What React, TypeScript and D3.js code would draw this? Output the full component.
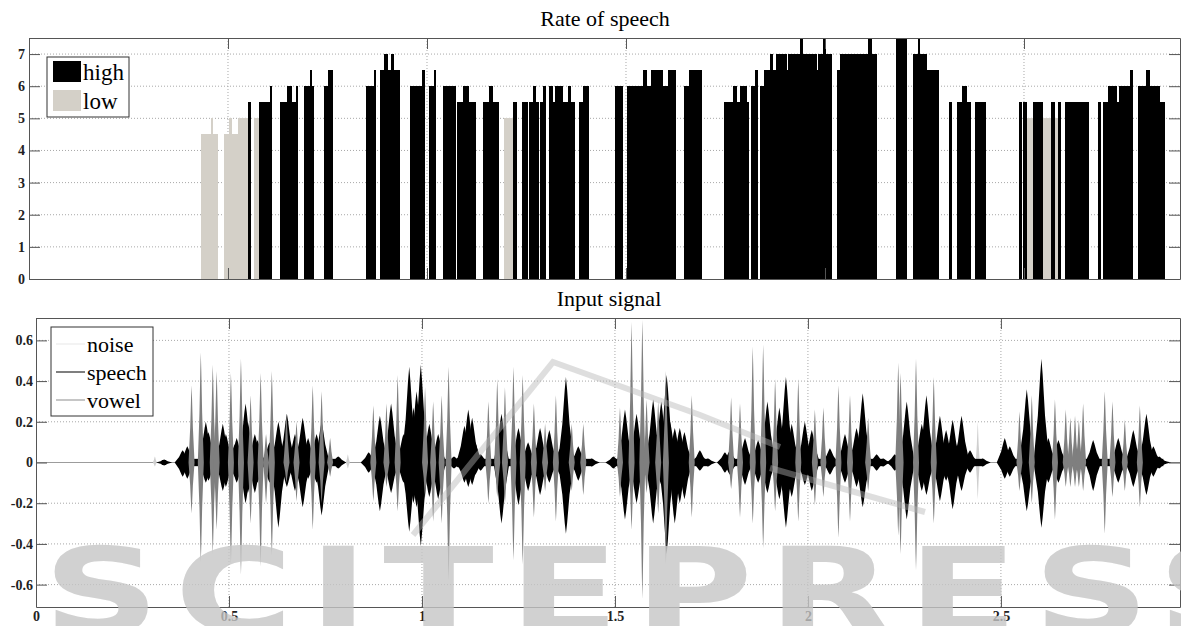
import React, { useEffect, useRef } from 'react';
import * as d3 from 'd3';

const W = 1181;
const H = 626;

// rate of speech: [start (s), end (s), rate, class]
const rateSegments: [number, number, number, string][] = [
  [0.432, 0.457, 4.5, 'low'], [0.457, 0.462, 5, 'low'], [0.462, 0.475, 4.5, 'low'],
  [0.490, 0.503, 4.5, 'low'], [0.503, 0.510, 5, 'low'], [0.510, 0.525, 4.5, 'low'],
  [0.525, 0.550, 5, 'low'], [0.550, 0.557, 5.5, 'high'], [0.565, 0.577, 5, 'low'],
  [0.577, 0.606, 5.5, 'high'], [0.606, 0.611, 6, 'high'],
  [0.631, 0.648, 5.5, 'high'], [0.648, 0.661, 6, 'high'], [0.661, 0.671, 5.5, 'high'], [0.671, 0.676, 6, 'high'],
  [0.691, 0.706, 6, 'high'], [0.706, 0.711, 6.5, 'high'], [0.711, 0.716, 6, 'high'],
  [0.741, 0.751, 6, 'high'], [0.751, 0.764, 6.5, 'high'],
  [0.847, 0.868, 6, 'high'], [0.868, 0.872, 6.5, 'high'],
  [0.883, 0.892, 6.5, 'high'], [0.892, 0.901, 7, 'high'], [0.901, 0.910, 6.5, 'high'],
  [0.910, 0.918, 7, 'high'], [0.918, 0.932, 6.5, 'high'],
  [0.957, 0.987, 6, 'high'], [0.987, 0.994, 6.5, 'high'],
  [1.006, 1.018, 6, 'high'], [1.018, 1.023, 6.5, 'high'],
  [1.040, 1.073, 6, 'high'],
  [1.075, 1.091, 5.5, 'high'], [1.091, 1.106, 6, 'high'], [1.106, 1.123, 5.5, 'high'],
  [1.141, 1.156, 5.5, 'high'], [1.156, 1.166, 6, 'high'], [1.166, 1.181, 5.5, 'high'],
  [1.194, 1.216, 5, 'low'], [1.216, 1.226, 5.5, 'high'],
  [1.239, 1.254, 5.5, 'high'],
  [1.256, 1.266, 5.5, 'high'], [1.266, 1.274, 6, 'high'], [1.274, 1.281, 5.5, 'high'],
  [1.284, 1.292, 5.5, 'high'], [1.292, 1.299, 6, 'high'],
  [1.307, 1.317, 6, 'high'], [1.317, 1.322, 5.5, 'high'], [1.322, 1.342, 6, 'high'],
  [1.342, 1.354, 5.5, 'high'], [1.354, 1.362, 6, 'high'], [1.362, 1.372, 5.5, 'high'],
  [1.382, 1.392, 5.5, 'high'], [1.392, 1.407, 6, 'high'],
  [1.472, 1.493, 6, 'high'],
  [1.503, 1.543, 6, 'high'], [1.543, 1.553, 6.5, 'high'], [1.553, 1.563, 6, 'high'],
  [1.563, 1.593, 6.5, 'high'], [1.593, 1.606, 6, 'high'], [1.606, 1.626, 6.5, 'high'],
  [1.646, 1.658, 6, 'high'], [1.658, 1.691, 6.5, 'high'],
  [1.746, 1.769, 5.5, 'high'], [1.769, 1.779, 6, 'high'], [1.779, 1.786, 5.5, 'high'],
  [1.786, 1.804, 6, 'high'], [1.804, 1.809, 5.5, 'high'],
  [1.814, 1.824, 6, 'high'], [1.824, 1.832, 6.5, 'high'],
  [1.837, 1.847, 6, 'high'], [1.847, 1.862, 6.5, 'high'], [1.862, 1.869, 7, 'high'],
  [1.869, 1.877, 6.5, 'high'], [1.877, 1.905, 7, 'high'], [1.905, 1.907, 6.5, 'high'],
  [1.907, 1.937, 7, 'high'], [1.937, 1.945, 7.5, 'high'], [1.945, 1.980, 7, 'high'],
  [1.980, 1.982, 6.5, 'high'], [1.982, 1.995, 7, 'high'], [1.995, 2.003, 7.5, 'high'],
  [2.003, 2.018, 7, 'high'],
  [2.030, 2.038, 6.5, 'high'], [2.038, 2.108, 7, 'high'], [2.108, 2.118, 7.5, 'high'], [2.118, 2.131, 7, 'high'],
  [2.178, 2.206, 7.5, 'high'],
  [2.221, 2.234, 7, 'high'], [2.234, 2.239, 7.5, 'high'], [2.239, 2.256, 7, 'high'], [2.256, 2.286, 6.5, 'high'],
  [2.312, 2.319, 5.5, 'high'],
  [2.332, 2.344, 5.5, 'high'], [2.344, 2.357, 6, 'high'], [2.357, 2.367, 5.5, 'high'],
  [2.377, 2.405, 5.5, 'high'],
  [2.487, 2.495, 5.5, 'high'],
  [2.498, 2.508, 5.5, 'high'], [2.508, 2.523, 5, 'low'], [2.523, 2.548, 5.5, 'high'],
  [2.548, 2.568, 5, 'low'], [2.568, 2.578, 5.5, 'high'], [2.578, 2.585, 5, 'low'], [2.585, 2.593, 5.5, 'high'],
  [2.603, 2.663, 5.5, 'high'],
  [2.686, 2.694, 5.5, 'high'],
  [2.699, 2.711, 5.5, 'high'], [2.711, 2.734, 6, 'high'], [2.734, 2.739, 5.5, 'high'],
  [2.739, 2.766, 6, 'high'], [2.766, 2.774, 6.5, 'high'],
  [2.786, 2.807, 6, 'high'], [2.807, 2.817, 6.5, 'high'], [2.817, 2.842, 6, 'high'], [2.842, 2.854, 5.5, 'high'],
];

// input signal, speech regions: [start, end, base amplitude]
const speechRegions: [number, number, number][] = [
  [0.326, 0.337, 0.012], [0.377, 0.785, 0.018], [0.860, 1.142, 0.018], [1.150, 1.441, 0.018],
  [1.494, 1.742, 0.018], [1.784, 2.196, 0.018], [2.224, 2.454, 0.018], [2.509, 2.921, 0.018],
];

// envelope peaks [time, max, min]
const speechPeaks: [number, number, number][] = [
  [0.332, 0.015, -0.015], [0.380, 0.06, -0.07], [0.392, 0.08, -0.08], [0.440, 0.20, -0.10],
  [0.447, 0.15, -0.09], [0.484, 0.19, -0.14], [0.492, 0.14, -0.12], [0.515, 0.09, -0.07],
  [0.520, 0.12, -0.10], [0.543, 0.29, -0.20], [0.549, 0.20, -0.15], [0.567, 0.14, -0.15],
  [0.574, 0.11, -0.10], [0.605, 0.10, -0.10], [0.628, 0.20, -0.32], [0.650, 0.24, -0.12],
  [0.671, 0.14, -0.14], [0.691, 0.22, -0.22], [0.705, 0.12, -0.08], [0.727, 0.14, -0.10],
  [0.740, 0.20, -0.26], [0.783, 0.03, -0.03],
  [0.862, 0.05, -0.05], [0.891, 0.23, -0.24], [0.920, 0.29, -0.15], [0.952, 0.14, -0.10],
  [0.967, 0.47, -0.34], [0.978, 0.27, -0.20], [0.986, 0.35, -0.22], [0.997, 0.48, -0.41],
  [1.019, 0.19, -0.17], [1.042, 0.14, -0.18], [1.083, 0.03, -0.03], [1.094, 0.025, -0.025],
  [1.110, 0.18, -0.10], [1.120, 0.26, -0.12], [1.130, 0.22, -0.11], [1.138, 0.10, -0.06],
  [1.152, 0.04, -0.04], [1.206, 0.24, -0.30], [1.250, 0.17, -0.21], [1.275, 0.10, -0.14],
  [1.306, 0.17, -0.16], [1.330, 0.16, -0.10], [1.358, 0.07, -0.06], [1.373, 0.42, -0.35],
  [1.405, 0.08, -0.09], [1.440, 0.02, -0.02],
  [1.496, 0.03, -0.03], [1.526, 0.26, -0.28], [1.556, 0.24, -0.20], [1.599, 0.31, -0.30],
  [1.620, 0.30, -0.11], [1.634, 0.43, -0.45], [1.643, 0.20, -0.15], [1.655, 0.17, -0.30],
  [1.668, 0.17, -0.20], [1.680, 0.15, -0.18], [1.720, 0.06, -0.04], [1.741, 0.02, -0.02],
  [1.785, 0.05, -0.05], [1.798, 0.06, -0.06], [1.837, 0.12, -0.11], [1.871, 0.11, -0.10],
  [1.895, 0.30, -0.15], [1.926, 0.27, -0.18], [1.943, 0.42, -0.32], [1.958, 0.19, -0.17],
  [1.992, 0.20, -0.11], [2.010, 0.16, -0.14], [2.057, 0.07, -0.06], [2.096, 0.14, -0.10],
  [2.126, 0.17, -0.12], [2.142, 0.34, -0.22], [2.178, 0.04, -0.04], [2.195, 0.02, -0.02],
  [2.225, 0.04, -0.04], [2.256, 0.30, -0.28], [2.295, 0.19, -0.14], [2.307, 0.33, -0.16],
  [2.342, 0.23, -0.19], [2.358, 0.16, -0.09], [2.375, 0.21, -0.23], [2.398, 0.23, -0.14],
  [2.420, 0.06, -0.05], [2.453, 0.02, -0.02],
  [2.510, 0.12, -0.08], [2.523, 0.08, -0.07], [2.567, 0.36, -0.24], [2.605, 0.51, -0.32],
  [2.623, 0.12, -0.10], [2.649, 0.11, -0.10], [2.739, 0.11, -0.14], [2.804, 0.12, -0.10],
  [2.843, 0.16, -0.12], [2.877, 0.24, -0.16], [2.895, 0.08, -0.07], [2.910, 0.03, -0.03],
  [2.921, 0.01, -0.01],
];

const vowelPeaks: [number, number, number][] = [
  [0.403, 0.38, -0.25], [0.427, 0.54, -0.49], [0.458, 0.48, -0.45], [0.468, 0.45, -0.33],
  [0.505, 0.44, -0.50], [0.531, 0.51, -0.55], [0.556, 0.33, -0.30], [0.582, 0.44, -0.51],
  [0.596, 0.14, -0.20], [0.611, 0.45, -0.46], [0.649, 0.24, -0.10], [0.675, 0.20, -0.19],
  [0.717, 0.38, -0.33], [0.740, 0.35, -0.20], [0.762, 0.12, -0.07],
  [0.874, 0.28, -0.19], [0.908, 0.29, -0.12], [0.937, 0.43, -0.24], [1.008, 0.37, -0.17],
  [1.029, 0.30, -0.29], [1.051, 0.33, -0.30], [1.069, 0.47, -0.58], [1.172, 0.30, -0.20],
  [1.195, 0.41, -0.17], [1.215, 0.37, -0.20], [1.237, 0.47, -0.48], [1.261, 0.43, -0.50],
  [1.290, 0.29, -0.27], [1.319, 0.19, -0.14], [1.347, 0.33, -0.29], [1.388, 0.19, -0.14],
  [1.418, 0.19, -0.16],
  [1.513, 0.27, -0.17], [1.543, 0.69, -0.33], [1.571, 0.70, -0.67], [1.582, 0.31, -0.15],
  [1.612, 0.30, -0.25], [1.632, 0.45, -0.50], [1.699, 0.33, -0.27],
  [1.801, 0.32, -0.13], [1.824, 0.29, -0.27], [1.857, 0.57, -0.30], [1.884, 0.58, -0.42],
  [1.915, 0.41, -0.24], [1.975, 0.41, -0.29], [2.018, 0.26, -0.21], [2.040, 0.27, -0.17],
  [2.079, 0.38, -0.37], [2.109, 0.33, -0.29], [2.156, 0.22, -0.14],
  [2.234, 0.49, -0.36], [2.240, 0.44, -0.45], [2.280, 0.51, -0.53], [2.326, 0.42, -0.30],
  [2.548, 0.25, -0.14], [2.580, 0.33, -0.20], [2.640, 0.31, -0.28], [2.668, 0.26, -0.12],
  [2.680, 0.22, -0.12], [2.692, 0.23, -0.12], [2.702, 0.21, -0.12], [2.713, 0.29, -0.14],
  [2.769, 0.35, -0.35], [2.789, 0.30, -0.17], [2.821, 0.21, -0.14], [2.860, 0.28, -0.22],
];

const noisePeaks: [number, number, number][] = [
  [0.308, 0.03, -0.02], [0.808, 0.04, -0.03], [2.440, 0.20, -0.18],
];

const rateTicksY = [0, 1, 2, 3, 4, 5, 6, 7];
const timeTicks = [0, 0.5, 1, 1.5, 2, 2.5];
const signalTicksY = [-0.6, -0.4, -0.2, 0, 0.2, 0.4, 0.6];

const rateLegend = [
  { label: 'high', color: '#000000' },
  { label: 'low', color: '#d4d0c8' },
];
const signalLegend = [
  { label: 'noise', color: '#ececec' },
  { label: 'speech', color: '#3a3a3a' },
  { label: 'vowel', color: '#a8a8a8' },
];

const SERIF = '"Liberation Serif", "Times New Roman", serif';

const App = () => {
  const svgRef = useRef<SVGSVGElement>(null);

  useEffect(() => {
    const svg = d3.select(svgRef.current);
    svg.selectAll('*').remove();
    svg.append('rect').attr('width', W).attr('height', H).attr('fill', '#fff');

    const styleAxis = (g: any) => {
      g.select('.domain').attr('stroke', '#555');
      g.selectAll('.tick line').attr('stroke', '#555');
      g.selectAll('.tick text')
        .attr('fill', '#222')
        .style('font-family', SERIF)
        .style('font-size', '14px')
        .style('font-weight', 'bold');
    };

    const drawFrame = (g: any, x: any, y: any, yTicks: number[], yFmt: any, xFmt: any, pad: number) => {
      const [x0, x1] = x.range();
      const [y0, y1] = y.range();
      // grid
      g.append('g').selectAll('line').data(yTicks.filter((d) => y(d) < y0 - 1)).join('line')
        .attr('x1', x0).attr('x2', x1).attr('y1', (d: number) => y(d)).attr('y2', (d: number) => y(d))
        .attr('stroke', '#a8a8a8').attr('stroke-dasharray', '1,2');
      g.append('g').selectAll('line').data(timeTicks.filter((d) => d > 0)).join('line')
        .attr('x1', (d: number) => x(d)).attr('x2', (d: number) => x(d)).attr('y1', y0).attr('y2', y1)
        .attr('stroke', '#a8a8a8').attr('stroke-dasharray', '1,2');
      return () => {
        g.append('g').attr('transform', `translate(${x0},0)`)
          .call(d3.axisLeft(y).tickValues(yTicks).tickSizeInner(-11).tickSizeOuter(0).tickPadding(pad).tickFormat(yFmt))
          .call(styleAxis);
        g.append('g').attr('transform', `translate(${x1},0)`)
          .call(d3.axisRight(y).tickValues(yTicks).tickSizeInner(-11).tickSizeOuter(0).tickFormat(() => ''))
          .call(styleAxis);
        g.append('g').attr('transform', `translate(0,${y1})`)
          .call(d3.axisTop(x).tickValues(timeTicks).tickSizeInner(-11).tickSizeOuter(0).tickFormat(() => ''))
          .call(styleAxis);
        g.append('g').attr('transform', `translate(0,${y0})`)
          .call(d3.axisBottom(x).tickValues(timeTicks).tickSizeInner(-11).tickSizeOuter(0).tickPadding(4).tickFormat(xFmt))
          .call(styleAxis);
      };
    };

    // ---------- Rate of speech ----------
    const xr = d3.scaleLinear().domain([0, 2.892]).range([29, 1180]);
    const yr = d3.scaleLinear().domain([0, 7.5]).range([279, 38]);
    const gTop = svg.append('g');
    const finishTop = drawFrame(gTop, xr, yr, rateTicksY, (d: number) => String(d), () => '', 4);

    gTop.append('g').attr('shape-rendering', 'crispEdges')
      .selectAll('rect').data(rateSegments).join('rect')
      .attr('x', (d) => xr(d[0]))
      .attr('width', (d) => Math.max(1, xr(d[1]) - xr(d[0])))
      .attr('y', (d) => yr(d[2]))
      .attr('height', (d) => yr(0) - yr(d[2]))
      .attr('fill', (d) => (d[3] === 'high' ? '#000' : '#d4d0c8'));
    finishTop();

    svg.append('text').attr('x', 605).attr('y', 26).attr('text-anchor', 'middle')
      .style('font-family', SERIF).style('font-size', '22px').text('Rate of speech');

    const lt = svg.append('g').attr('transform', 'translate(47,57)');
    lt.append('rect').attr('width', 82).attr('height', 60).attr('fill', '#fff').attr('stroke', '#333');
    rateLegend.forEach((d, i) => {
      lt.append('rect').attr('x', 6).attr('y', 4 + i * 29).attr('width', 28).attr('height', 21).attr('fill', d.color);
      lt.append('text').attr('x', 36).attr('y', 23 + i * 29)
        .style('font-family', SERIF).style('font-size', '23px').text(d.label);
    });

    // ---------- Input signal ----------
    const xs = d3.scaleLinear().domain([0, 2.964]).range([36, 1180]);
    const ys = d3.scaleLinear().domain([-0.71, 0.71]).range([607, 318]);
    const gBot = svg.append('g');
    const finishBot = drawFrame(gBot, xs, ys, signalTicksY,
      (d: number) => String(Math.round(d * 10) / 10), (d: number) => String(d), 3);

    const plot = gBot.append('g');
    plot.append('line').attr('x1', xs(0)).attr('x2', xs(2.964)).attr('y1', ys(0)).attr('y2', ys(0))
      .attr('stroke', '#9c9c9c').attr('stroke-width', 1.2);

    // envelope spindle around a peak, w = half width at the base in px
    const spindle = (w: number) => (d: [number, number, number]) => {
      const x = xs(d[0]);
      const up = (k: number) => ys(d[1] * k);
      const dn = (k: number) => ys(d[2] * k);
      return `M${x - w},${ys(0)}L${x - w * 0.45},${up(0.45)}L${x - w * 0.15},${up(0.85)}L${x},${up(1)}`
        + `L${x + w * 0.15},${up(0.85)}L${x + w * 0.45},${up(0.45)}L${x + w},${ys(0)}`
        + `L${x + w * 0.45},${dn(0.45)}L${x + w * 0.15},${dn(0.85)}L${x},${dn(1)}`
        + `L${x - w * 0.15},${dn(0.85)}L${x - w * 0.45},${dn(0.45)}Z`;
    };

    plot.selectAll('path.noise').data(noisePeaks).join('path').attr('class', 'noise')
      .attr('d', spindle(2)).attr('fill', '#cfcfcf');
    plot.selectAll('rect.sr').data(speechRegions).join('rect').attr('class', 'sr')
      .attr('x', (d) => xs(d[0])).attr('width', (d) => xs(d[1]) - xs(d[0]))
      .attr('y', (d) => ys(d[2])).attr('height', (d) => ys(-d[2]) - ys(d[2]))
      .attr('fill', '#000');
    plot.selectAll('path.sp').data(speechPeaks).join('path').attr('class', 'sp')
      .attr('d', spindle(8)).attr('fill', '#000');
    plot.selectAll('path.vw').data(vowelPeaks).join('path').attr('class', 'vw')
      .attr('d', spindle(3)).attr('fill', '#7f7f7f');
    finishBot();

    svg.append('text').attr('x', 609).attr('y', 306).attr('text-anchor', 'middle')
      .style('font-family', SERIF).style('font-size', '22px').text('Input signal');

    const lb = svg.append('g').attr('transform', 'translate(51,327)');
    lb.append('rect').attr('width', 102).attr('height', 89).attr('fill', '#fff').attr('stroke', '#333');
    signalLegend.forEach((d, i) => {
      const yy = 17 + i * 28;
      lb.append('line').attr('x1', 5).attr('x2', 34).attr('y1', yy).attr('y2', yy)
        .attr('stroke', d.color).attr('stroke-width', 1.3);
      lb.append('text').attr('x', 36).attr('y', yy + 8)
        .style('font-family', SERIF).style('font-size', '22px').text(d.label);
    });

    // ---------- publisher watermark ----------
    const wm = svg.append('g').attr('opacity', 0.8).attr('pointer-events', 'none');
    wm.append('path').attr('d', 'M413,535L553,362L700,415L780,447M770,468L925,512')
      .attr('fill', 'none').attr('stroke', '#b4b4b4').attr('stroke-width', 6).attr('opacity', 0.55);
    wm.append('text').attr('transform', 'translate(43,633) scale(1.35,1)')
      .style('font-family', '"DejaVu Sans", sans-serif').style('font-weight', 'bold')
      .style('letter-spacing', '11px')
      .style('font-size', '120px').attr('fill', '#c6c6c6').text('SCITEPRESS');
  }, []);

  return (
    <div style={{ position: 'absolute', left: 0, top: 0 }}>
      <svg ref={svgRef} width={W} height={H} style={{ display: 'block' }} />
    </div>
  );
};

export default App;
